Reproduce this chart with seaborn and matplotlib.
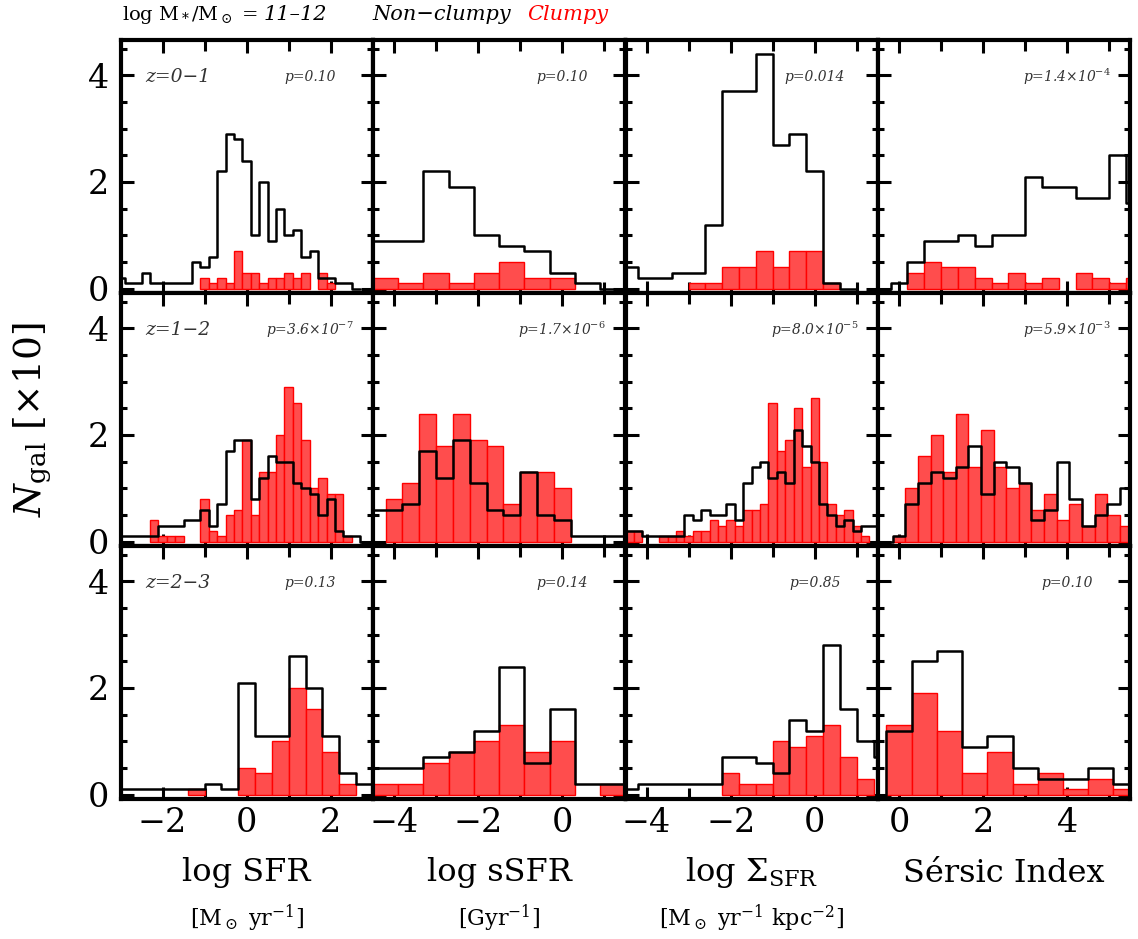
import numpy as np
import pandas as pd
import matplotlib
matplotlib.use("Agg")
import matplotlib.pyplot as plt
from matplotlib.ticker import MultipleLocator
import seaborn as sns

sns.set_theme(style="ticks")
plt.rcParams["font.family"] = ["DejaVu Serif"]
plt.rcParams["mathtext.fontset"] = "dejavuserif"

# ---------------- data ----------------
redshift_labels = ["z=0−1", "z=1−2", "z=2−3"]
quantity_labels = ["log SFR", "log sSFR", r"log $\Sigma_{\rm SFR}$", "Sérsic Index"]
unit_labels = [r"[M$_\odot$ yr$^{-1}$]", r"[Gyr$^{-1}$]",
               r"[M$_\odot$ yr$^{-1}$ kpc$^{-2}$]", ""]
x_ranges = [(-3, 3), (-4.5, 1.5), (-4.5, 1.5), (-0.5, 5.5)]
p_labels = [
    ["p=0.10", "p=0.10", "p=0.014", r"p=1.4×10$^{-4}$"],
    [r"p=3.6×10$^{-7}$", r"p=1.7×10$^{-6}$", r"p=8.0×10$^{-5}$", r"p=5.9×10$^{-3}$"],
    ["p=0.13", "p=0.14", "p=0.85", "p=0.10"],
]

# first bin edge and bin width of every histogram (rows: z bins, cols: quantity)
nonclumpy_first_edge = [[-3.1, -4.5, -4.6, -0.2],
                        [-3.1, -4.6, -4.7, -0.15],
                        [-3.4, -4.5, -4.6, -0.3]]
nonclumpy_bin_width = [[0.2, 0.6, 0.4, 0.4],
                       [0.2, 0.4, 0.2, 0.3],
                       [0.4, 0.6, 0.4, 0.6]]
clumpy_first_edge = [[-1.1, -4.5, -3.0, 0.2],
                     [-2.3, -4.2, -4.5, -0.15],
                     [-1.4, -4.5, -2.2, -0.3]]
clumpy_bin_width = [[0.2, 0.6, 0.4, 0.4],
                    [0.2, 0.4, 0.2, 0.3],
                    [0.4, 0.6, 0.4, 0.6]]

# galaxy numbers (x10) per bin -- z = 0-1
nc_z1_sfr = [0.2, 0.1, 0.1, 0.3, 0.1, 0.1, 0.1, 0.1, 0.1, 0.5, 0.4, 0.6, 2.2, 2.9,
             2.8, 2.4, 1.0, 2.0, 0.9, 1.5, 1.0, 1.1, 0.6, 0.7, 0.2, 0.2, 0.1, 0.1]
cl_z1_sfr = [0.2, 0.1, 0.2, 0.1, 0.7, 0.3, 0.3, 0.1, 0.2, 0.2, 0.3, 0.2, 0.3, 0.0,
             0.3, 0.1]
nc_z1_ssfr = [0.9, 0.9, 2.2, 1.9, 1.0, 0.8, 0.7, 0.3, 0.1]
cl_z1_ssfr = [0.2, 0.1, 0.3, 0.1, 0.3, 0.5, 0.2, 0.2]
nc_z1_sigma = [0.4, 0.2, 0.2, 0.3, 0.3, 1.2, 3.7, 3.7, 4.4, 2.7, 2.9, 2.2, 0.1]
cl_z1_sigma = [0.1, 0.1, 0.4, 0.4, 0.7, 0.4, 0.7, 0.7, 0.1]
nc_z1_sersic = [0.1, 0.5, 0.9, 0.9, 1.0, 0.8, 1.0, 1.0, 2.1, 1.9, 1.9, 1.7, 1.7,
                2.5, 1.6]
cl_z1_sersic = [0.3, 0.5, 0.4, 0.4, 0.2, 0.1, 0.3, 0.1, 0.2, 0.0, 0.3, 0.2, 0.1, 0.2]

# z = 1-2
nc_z2_sfr = [0.1, 0.1, 0.1, 0.1, 0.1, 0.3, 0.3, 0.3, 0.4, 0.4, 0.6, 0.3, 0.7, 1.7,
             1.9, 1.9, 0.8, 1.2, 1.6, 1.5, 1.5, 1.1, 1.0, 0.9, 0.5, 0.8, 0.2, 0.1, 0.1]
cl_z2_sfr = [0.4, 0.1, 0.1, 0.1, 0.0, 0.0, 0.8, 0.2, 0.1, 0.5, 0.6, 1.9, 0.5, 1.3,
             1.3, 2.0, 2.9, 2.6, 1.9, 1.0, 1.2, 0.9, 0.9, 0.1]
nc_z2_ssfr = [0.6, 0.6, 0.7, 1.7, 1.2, 1.9, 1.1, 0.6, 0.5, 1.3, 0.5, 0.4, 0.1, 0.1,
              0.1, 0.1]
cl_z2_ssfr = [0.8, 1.1, 2.4, 1.8, 2.4, 1.9, 1.8, 0.7, 1.3, 1.3, 1.0]
nc_z2_sigma = [0.2, 0.2, 0.2, 0.1, 0.1, 0.1, 0.1, 0.1, 0.5, 0.4, 0.6, 0.5, 0.5, 0.7,
               0.4, 1.1, 1.4, 1.5, 1.2, 1.3, 1.1, 2.1, 1.8, 1.5, 0.7, 0.5, 0.3, 0.4,
               0.2, 0.3, 0.3]
cl_z2_sigma = [0.2, 0.2, 0.0, 0.0, 0.1, 0.1, 0.2, 0.1, 0.2, 0.2, 0.4, 0.3, 0.4, 0.3,
               0.6, 0.6, 0.7, 2.6, 1.7, 1.9, 2.5, 1.4, 2.7, 1.5, 0.7, 0.5, 0.6, 0.3,
               0.1]
nc_z2_sersic = [0.1, 0.7, 1.1, 1.3, 1.2, 1.4, 1.8, 0.9, 1.5, 1.4, 1.1, 0.4, 0.6, 1.5,
                0.8, 0.3, 0.5, 0.7, 1.0]
cl_z2_sersic = [0.1, 1.0, 1.6, 2.0, 1.3, 2.4, 1.4, 2.1, 1.4, 1.0, 1.1, 0.6, 0.9, 0.4,
                0.7, 0.3, 0.9, 0.5, 0.3]

# z = 2-3
nc_z3_sfr = [0.1, 0.1, 0.1, 0.1, 0.1, 0.1, 0.2, 0.1, 2.1, 1.1, 1.1, 2.6, 2.0, 1.1,
             0.4, 0.2, 0.2]
cl_z3_sfr = [0.1, 0.0, 0.0, 0.5, 0.4, 1.0, 2.0, 1.6, 0.8, 0.2]
nc_z3_ssfr = [0.5, 0.5, 0.7, 0.8, 1.2, 2.4, 0.6, 1.6, 0.2, 0.2]
cl_z3_ssfr = [0.2, 0.2, 0.6, 0.8, 1.0, 1.3, 0.8, 1.0, 0.0, 0.2]
nc_z3_sigma = [0.1, 0.2, 0.2, 0.2, 0.2, 0.2, 0.7, 0.7, 0.6, 0.4, 1.4, 1.2, 2.8, 1.6,
               1.0, 0.7, 0.4]
cl_z3_sigma = [0.4, 0.2, 0.2, 1.0, 0.9, 1.1, 1.3, 0.7, 0.3]
nc_z3_sersic = [1.2, 2.5, 2.7, 0.9, 1.1, 0.5, 0.3, 0.3, 0.5, 0.2]
cl_z3_sersic = [1.3, 1.9, 1.2, 0.4, 0.8, 0.2, 0.4, 0.1, 0.3, 0.1]

nonclumpy_counts = [[nc_z1_sfr, nc_z1_ssfr, nc_z1_sigma, nc_z1_sersic],
                    [nc_z2_sfr, nc_z2_ssfr, nc_z2_sigma, nc_z2_sersic],
                    [nc_z3_sfr, nc_z3_ssfr, nc_z3_sigma, nc_z3_sersic]]
clumpy_counts = [[cl_z1_sfr, cl_z1_ssfr, cl_z1_sigma, cl_z1_sersic],
                 [cl_z2_sfr, cl_z2_ssfr, cl_z2_sigma, cl_z2_sersic],
                 [cl_z3_sfr, cl_z3_ssfr, cl_z3_sigma, cl_z3_sersic]]

# ---------------- figure ----------------
W, H = 1138, 939
fig = plt.figure(figsize=(W / 100, H / 100), dpi=100)


def fx(x):
    return x / W


def fy(y):
    return 1 - y / H


col_left = [120.5, 373.0, 625.5, 878.0]
col_width = 252.3
row_top = [40.0, 293.0, 546.0]
row_height = 253.0

RED_FILL = "#ff4d4d"
RED_EDGE = "#ff0000"


def hist_frame(first_edge, width, heights, pad=False):
    """Bin centres with their weights, plus the bin range covering them."""
    heights = list(heights)
    if pad:
        heights = [0.0] + heights + [0.0]
        first_edge = first_edge - width
    n = len(heights)
    centers = first_edge + width * (np.arange(n) + 0.5)
    df = pd.DataFrame({"value": centers, "n": np.asarray(heights, dtype=float)})
    return df, (first_edge, first_edge + width * n - width * 1e-6)


for r in range(3):
    for c in range(4):
        ax = fig.add_axes([fx(col_left[c]), fy(row_top[r] + row_height),
                           fx(col_width), row_height / H])

        # clumpy galaxies: filled red bars
        w_c = clumpy_bin_width[r][c]
        df_c, rng_c = hist_frame(clumpy_first_edge[r][c], w_c, clumpy_counts[r][c])
        sns.histplot(data=df_c, x="value", weights="n", binwidth=w_c,
                     binrange=rng_c, element="bars", fill=True,
                     facecolor=RED_FILL, edgecolor=RED_EDGE, linewidth=1.0,
                     ax=ax, zorder=2)
        for patch in list(ax.patches):
            if patch.get_height() <= 0:
                patch.remove()

        # non-clumpy galaxies: black outline
        w_n = nonclumpy_bin_width[r][c]
        df_n, rng_n = hist_frame(nonclumpy_first_edge[r][c], w_n,
                                 nonclumpy_counts[r][c], pad=True)
        sns.histplot(data=df_n, x="value", weights="n", binwidth=w_n,
                     binrange=rng_n, element="step", fill=False, color="black",
                     linewidth=1.8, ax=ax, zorder=3)

        ax.set_xlim(*x_ranges[c])
        ax.set_ylim(-0.08, 4.66)
        ax.set_xlabel("")
        ax.set_ylabel("")

        ax.xaxis.set_major_locator(MultipleLocator(2))
        ax.xaxis.set_minor_locator(MultipleLocator(1))
        ax.yaxis.set_major_locator(MultipleLocator(2))
        ax.yaxis.set_minor_locator(MultipleLocator(0.5))
        ax.tick_params(which="both", direction="in", top=True, right=True,
                       bottom=True, left=True, width=2.2, color="black",
                       labelsize=24, labelcolor="black")
        ax.tick_params(which="major", length=9)
        ax.tick_params(axis="y", which="minor", length=4)
        ax.tick_params(axis="x", which="minor", length=8)
        ax.tick_params(axis="x", which="major", pad=6)
        ax.tick_params(axis="y", which="major", pad=8)
        if c != 0:
            ax.tick_params(labelleft=False)
        if r != 2:
            ax.tick_params(labelbottom=False)
        for s in ax.spines.values():
            s.set_linewidth(3)
            s.set_color("black")
            s.set_zorder(5)

        if c == 0:
            ax.text(0.096, 0.855, redshift_labels[r], transform=ax.transAxes,
                    ha="left", va="center", fontsize=13.5, style="italic",
                    color="#333333")
        ax.text(0.75, 0.855, p_labels[r][c], transform=ax.transAxes,
                ha="center", va="center", fontsize=10, style="italic",
                color="#333333")

# axis titles below the bottom row
for c in range(4):
    xc = col_left[c] + col_width / 2
    fig.text(fx(xc), fy(873), quantity_labels[c], ha="center", va="center",
             fontsize=23, color="black")
    if unit_labels[c]:
        fig.text(fx(xc), fy(918), unit_labels[c], ha="center", va="center",
                 fontsize=16, color="black")

fig.text(fx(32), fy(420), r"$N_{\rm gal}$ [$\times$10]", rotation=90,
         ha="center", va="center", fontsize=27, color="black")

# header line: stellar-mass range followed by the colour key
mass_txt = fig.text(fx(122), fy(15), r"log M$_*$/M$_\odot$ =", ha="left",
                    va="center", fontsize=14, color="black")
fig.canvas.draw()
mass_end = mass_txt.get_window_extent().x1
fig.text((mass_end + 6) / W, fy(15), "11–12", ha="left", va="center",
         fontsize=15, style="italic", color="black")
fig.text(fx(372), fy(15), "Non−clumpy", ha="left", va="center", fontsize=15,
         style="italic", color="black")
fig.text(fx(527), fy(15), "Clumpy", ha="left", va="center", fontsize=15,
         style="italic", color="red")

fig.savefig("out.png", dpi=100)
